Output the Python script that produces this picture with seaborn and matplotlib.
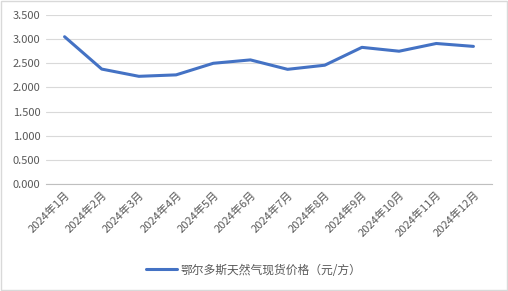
import matplotlib
matplotlib.use("Agg")
import matplotlib.pyplot as plt
import seaborn as sns
import pandas as pd
import numpy as np

months = ["2024年1月", "2024年2月", "2024年3月", "2024年4月", "2024年5月", "2024年6月",
          "2024年7月", "2024年8月", "2024年9月", "2024年10月", "2024年11月", "2024年12月"]
prices = [3.05, 2.38, 2.23, 2.26, 2.50, 2.57, 2.375, 2.46, 2.83, 2.75, 2.91, 2.85]
series_name = "鄂尔多斯天然气现货价格（元/方）"
yticks = [0.0, 0.5, 1.0, 1.5, 2.0, 2.5, 3.0, 3.5]

sns.set_theme(style="white")
plt.rcParams['font.family'] = ['Noto Sans CJK SC', 'DejaVu Sans']

df = pd.DataFrame({"month": months, "price": prices, "pos": np.arange(len(months))})

fig = plt.figure(figsize=(5.08, 2.91), dpi=100)
ax = fig.add_axes([46/508, 1-184/291, (492-46)/508, (184-15)/291])

sns.lineplot(data=df, x="pos", y="price", ax=ax, color="#4472C4", linewidth=2.2,
             label=series_name, legend=False)

ax.set_xlim(-0.5, len(months) - 0.5)
ax.set_ylim(0, 3.5)
ax.set_yticks(yticks)
ax.set_yticklabels([f"{v:.3f}" for v in yticks], color="#595959", fontsize=8)
ax.yaxis.grid(True, color="#D9D9D9", linewidth=0.8)
ax.set_axisbelow(True)
ax.set_xlabel("")
ax.set_ylabel("")

ax.set_xticks(np.arange(len(months)))
ax.set_xticklabels(months, rotation=45, ha="right", rotation_mode="anchor",
                   color="#595959", fontsize=8)
ax.tick_params(axis="x", length=0, pad=4)
ax.tick_params(axis="y", length=0, pad=4)
# boundary tick marks
ax.set_xticks(np.arange(len(months) + 1) - 0.5, minor=True)
ax.tick_params(axis="x", which="minor", length=4, color="#BFBFBF", width=0.8, direction="out")

for s in ["top", "right", "left"]:
    ax.spines[s].set_visible(False)
ax.spines["bottom"].set_color("#BFBFBF")
ax.spines["bottom"].set_linewidth(0.8)

handles, labels = ax.get_legend_handles_labels()
fig.legend(handles, labels, loc="center", bbox_to_anchor=(0.5, 1 - 270/291), frameon=False,
           fontsize=8.5, labelcolor="#595959", handlelength=2.6, handletextpad=0.3)

fig.patches.append(matplotlib.patches.Rectangle((0.001, 0.002), 0.997, 0.995, transform=fig.transFigure,
                                                fill=False, edgecolor="#D9D9D9", linewidth=1.0))
fig.savefig("out.png", dpi=100)
